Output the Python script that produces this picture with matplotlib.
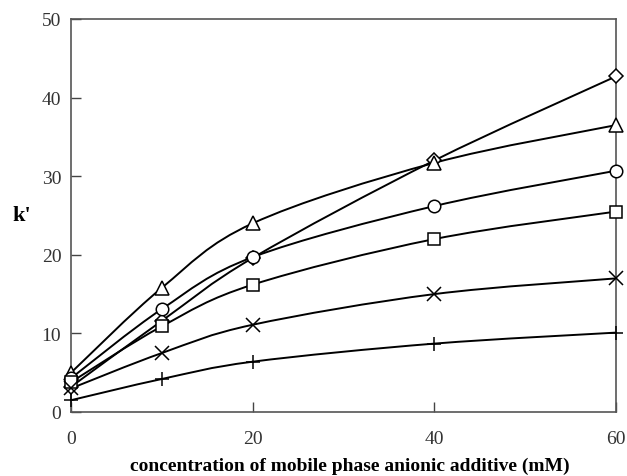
import numpy as np
import matplotlib
matplotlib.use('Agg')
import matplotlib.pyplot as plt
from matplotlib.path import Path
from matplotlib.patches import PathPatch

plt.rcParams['font.family'] = ['Liberation Serif', 'DejaVu Serif']

# additive concentration (mM)
conc = [0, 10, 20, 40, 60]

# retention factor k' for each analyte
k_diamond = [3.2, 11.6, 19.6, 32.0, 42.7]
k_triangle = [5.0, 15.8, 24.0, 31.7, 36.5]
k_circle = [4.3, 13.1, 19.7, 26.2, 30.7]
k_square = [3.8, 10.9, 16.2, 22.0, 25.5]
k_cross = [3.0, 7.5, 11.1, 15.0, 17.0]
k_plus = [1.5, 4.2, 6.4, 8.7, 10.1]

series = [
    (k_diamond, 'D', 7.5),
    (k_triangle, '^', 9.5),
    (k_circle, 'o', 9),
    (k_square, 's', 8.5),
    (k_cross, 'x', 9.5),
    (k_plus, '+', 10.5),
]


def smooth_path(x, y, t=1/6.):
    # catmull-rom style bezier through the points
    x = np.asarray(x, float)
    y = np.asarray(y, float)
    verts = [(x[0], y[0])]
    codes = [Path.MOVETO]
    n = len(x)
    for i in range(n - 1):
        i0 = max(i - 1, 0)
        i3 = min(i + 2, n - 1)
        c1 = (x[i] + (x[i+1] - x[i0]) * t, y[i] + (y[i+1] - y[i0]) * t)
        c2 = (x[i+1] - (x[i3] - x[i]) * t, y[i+1] - (y[i3] - y[i]) * t)
        verts += [c1, c2, (x[i+1], y[i+1])]
        codes += [Path.CURVE4] * 3
    return Path(verts, codes)


fig = plt.figure(figsize=(6.27, 4.77), dpi=100)
ax = fig.add_axes([71/627, 1 - 413/477, 545/627, 393/477])

for vals, mk, ms in series:
    ax.add_patch(PathPatch(smooth_path(conc, vals), fill=False,
                           edgecolor='black', lw=1.4, zorder=2))
    ax.plot(conc, vals, linestyle='none', marker=mk, markersize=ms,
            markerfacecolor='white', markeredgecolor='black',
            markeredgewidth=1.1, zorder=3, clip_on=False)

ax.set_xlim(0, 60)
ax.set_ylim(0, 50)
ax.set_xticks([0, 20, 40, 60])
ax.set_yticks([0, 10, 20, 30, 40, 50])
ax.tick_params(direction='in', length=7, width=1, color='#444444',
               labelsize=14, labelcolor='#333333')
ax.tick_params(axis='x', pad=13)
ax.tick_params(axis='y', pad=7)
for s in ax.spines.values():
    s.set_color('#555555')
    s.set_linewidth(1.2)

fig.text(12/627, 1 - 216/477, "k'", fontsize=16, fontweight='bold',
         ha='left', va='center')
fig.text(350/627, 1 - 466/477, 'concentration of mobile phase anionic additive (mM)',
         fontsize=14, fontweight='bold', ha='center', va='center')

fig.savefig('out.png', dpi=100)
